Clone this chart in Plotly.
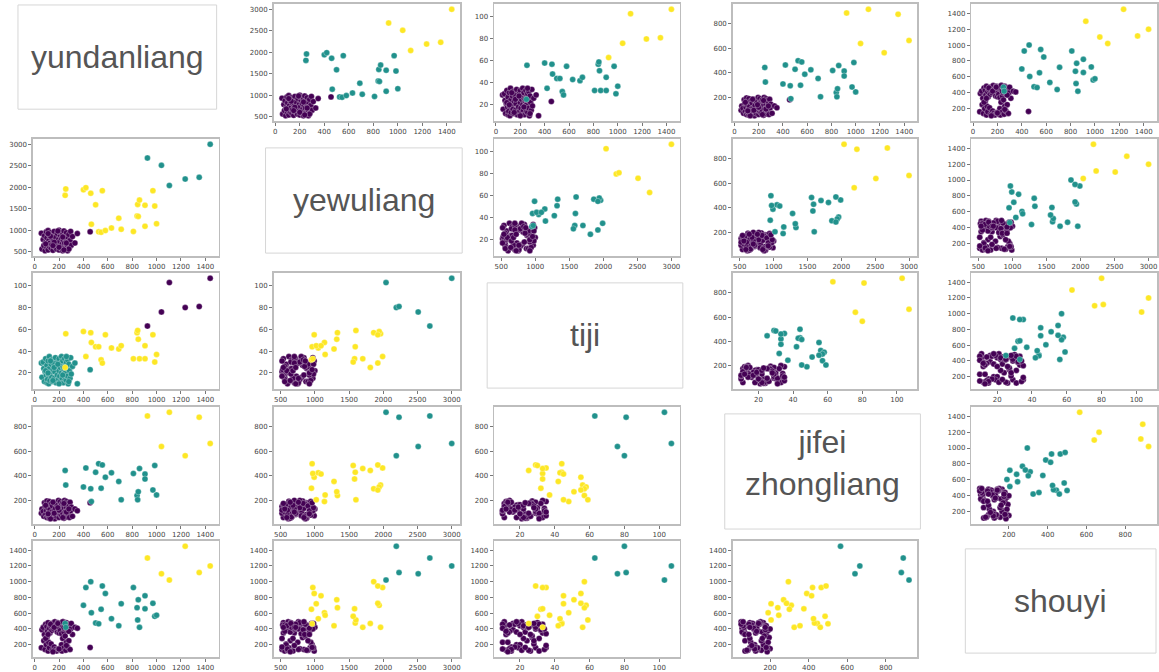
import plotly.graph_objects as go

# ---------------- data ----------------
variables = ["yundanliang", "yewuliang", "tiji", "jifei zhongliang", "shouyi"]
diag_labels = ["yundanliang", "yewuliang", "tiji", "jifei<br>zhongliang", "shouyi"]

# low group (cluster A)
low_yundanliang = [55, 60, 70, 75, 80, 85, 90, 95, 100, 100, 105, 110, 110, 115, 120, 120, 125, 130, 135, 140,
                   140, 145, 150, 155, 160, 165, 170, 175, 180, 185, 190, 195, 200, 200, 205, 210, 210, 215, 220, 220,
                   225, 230, 230, 235, 240, 240, 245, 250, 250, 255, 260, 260, 265, 270, 270, 275, 280, 285, 290, 295,
                   300, 310, 330, 350, 90, 130, 160, 200, 230, 260, 280, 110, 150, 190, 240, 455]
low_yewuliang = [930, 560, 780, 640, 870, 520, 720, 960, 600, 820, 690, 990, 540, 750, 880, 620, 700, 940, 580, 810,
                 660, 900, 530, 760, 970, 610, 840, 700, 560, 920, 650, 780, 1000, 540, 730, 880, 620, 950, 580, 800,
                 680, 910, 520, 760, 640, 980, 700, 560, 860, 600, 780, 940, 660, 520, 830, 720, 900, 590, 760, 970,
                 650, 850, 700, 920, 680, 860, 720, 600, 840, 700, 560, 920, 640, 980, 540, 960]
low_tiji = [29, 16, 30, 24, 12, 21, 33, 18, 11, 27, 14, 31, 19, 10, 24, 35, 13, 20, 28, 16,
            32, 12, 23, 29, 15, 21, 34, 11, 26, 18, 30, 14, 22, 33, 17, 25, 12, 29, 20, 35,
            15, 26, 31, 11, 23, 19, 33, 14, 27, 21, 30, 13, 24, 17, 32, 10, 28, 22, 15, 34,
            19, 26, 29, 10, 22, 31, 25, 10, 18, 35, 12, 20, 13, 28, 25, 23]
low_jifei = [95, 130, 110, 70, 180, 150, 85, 120, 60, 195, 140, 75, 165, 100, 55, 190, 125, 80, 170, 105,
             65, 155, 90, 185, 115, 50, 135, 175, 70, 160, 95, 200, 130, 60, 145, 85, 190, 110, 165, 75,
             125, 180, 95, 150, 55, 135, 200, 105, 170, 80, 140, 190, 65, 120, 175, 90, 155, 60, 185, 115,
             145, 70, 130, 115, 160, 50, 95, 120, 60, 105, 130, 90, 185, 140, 175, 180]
low_shouyi = [160, 390, 420, 250, 330, 140, 460, 200, 430, 290, 370, 120, 480, 230, 410, 160, 350, 440, 210, 470,
              380, 130, 450, 400, 170, 490, 140, 440, 120, 360, 480, 150, 420, 350, 460, 130, 380, 470, 200, 340,
              120, 440, 280, 490, 360, 160, 400, 450, 310, 130, 480, 230, 420, 170, 390, 460, 250, 440, 140, 400,
              470, 330, 420, 410, 280, 460, 420, 145, 490, 190, 370, 330, 110, 470, 420, 165]

# middle group (cluster B)
mid_yundanliang = [250, 255, 400, 420, 460, 465, 500, 525, 545, 555, 580, 630, 690, 710, 810, 840, 845, 850,
                   860, 905, 905, 970, 985, 1000]
mid_yewuliang = [1810, 1960, 1940, 1990, 1860, 1140, 1590, 960, 950, 1920, 990, 1050, 1280, 1020, 970, 1330,
                 1600, 1320, 1700, 1090, 1580, 1920, 1560, 1150]
mid_tiji = [25, 56, 58, 35, 57, 48, 44, 44, 32, 29, 55, 43, 42, 45, 33, 57, 59, 51, 33, 45, 33, 55, 30, 37]
mid_jifei = [445, 325, 310, 465, 295, 190, 430, 500, 300, 490, 390, 425, 355, 205, 420, 240, 205, 270, 460,
             415, 375, 285, 485, 245]
mid_shouyi = [470, 420, 700, 925, 1000, 605, 475, 465, 650, 945, 850, 530, 440, 720, 925, 670, 515, 770, 420,
              820, 655, 725, 560, 575]

# high group (cluster C)
high_yundanliang = [925, 1040, 1105, 1235, 1350, 1440]
high_yewuliang = [2680, 2510, 2040, 2190, 2230, 3000]
high_tiji = [63, 76, 103, 80, 81, 107]
high_jifei = [890, 640, 920, 565, 880, 665]
high_shouyi = [1300, 1100, 1020, 1450, 1115, 1200]

tick_steps = [200, 500, 20, 200, 200]

# ---------------- styling ----------------
W, H = 1159, 672
VIRIDIS = {"P": "#440154", "T": "#21918c", "Y": "#fde725"}
# colour of (low, mid, high) group in each panel (row, col)
panel_colors = {
    (0, 1): "PTY", (0, 2): "PTY", (0, 3): "PTY", (0, 4): "PTY",
    (1, 0): "PYT", (1, 2): "PTY", (1, 3): "PTY", (1, 4): "PTY",
    (2, 0): "TYP", (2, 1): "PYT", (2, 3): "PTY", (2, 4): "PTY",
    (3, 0): "PTY", (3, 1): "PYT", (3, 2): "PYT", (3, 4): "PTY",
    (4, 0): "PTY", (4, 1): "PYT", (4, 2): "PYT", (4, 3): "PYT",
}
col_px = [(32, 218), (273, 460), (494, 680), (733, 918), (972, 1158)]
row_px = [(4, 122), (140, 258), (275, 392), (410, 528), (545, 662)]
box_px = [(17, 216, 5, 110), (265, 462, 149, 255), (487, 683, 285, 391),
          (725, 921, 417, 533), (966, 1157, 553, 658)]
label_yshift = [0, 0, 0, 8, 0]

groups = [
    [low_yundanliang, low_yewuliang, low_tiji, low_jifei, low_shouyi],
    [mid_yundanliang, mid_yewuliang, mid_tiji, mid_jifei, mid_shouyi],
    [high_yundanliang, high_yewuliang, high_tiji, high_jifei, high_shouyi],
]


def full(v):
    return groups[0][v] + groups[1][v] + groups[2][v]


def padded_range(v):
    vals = full(v)
    lo, hi = min(vals), max(vals)
    pad = (hi - lo) * 0.05
    return [lo - pad, hi + pad]


fig = go.Figure()
layout = {}
k = 0
for i in range(5):
    for j in range(5):
        if i == j:
            continue
        k += 1
        xv, yv = min(i, j), max(i, j)
        cmap = panel_colors[(i, j)]
        xs, ys, cs = [], [], []
        for g in range(3):
            xs += groups[g][xv]
            ys += groups[g][yv]
            cs += [VIRIDIS[cmap[g]]] * len(groups[g][xv])
        xa = "x" if k == 1 else f"x{k}"
        ya = "y" if k == 1 else f"y{k}"
        fig.add_trace(go.Scatter(
            x=xs, y=ys, mode="markers", xaxis=xa, yaxis=ya, showlegend=False, hoverinfo="skip",
            marker=dict(color=cs, size=6, line=dict(width=0.5, color="rgba(255,255,255,0.6)")),
        ))
        x0, x1 = col_px[j]
        y0, y1 = row_px[i]
        common = dict(showgrid=False, zeroline=False, showline=True, mirror=True,
                      linecolor="#bdbdbd", linewidth=1.5, ticks="outside", ticklen=3,
                      tickwidth=0.8, tickcolor="#555", tick0=0,
                      tickfont=dict(family="DejaVu Sans", size=7, color="#444"))
        layout["xaxis" if k == 1 else f"xaxis{k}"] = dict(
            domain=[x0 / W, x1 / W], anchor=ya, range=padded_range(xv), dtick=tick_steps[xv], **common)
        layout["yaxis" if k == 1 else f"yaxis{k}"] = dict(
            domain=[1 - y1 / H, 1 - y0 / H], anchor=xa, range=padded_range(yv), dtick=tick_steps[yv], **common)

shapes, annotations = [], []
for d in range(5):
    bx0, bx1, by0, by1 = box_px[d]
    shapes.append(dict(type="rect", xref="paper", yref="paper",
                       x0=bx0 / W, x1=bx1 / W, y0=1 - by1 / H, y1=1 - by0 / H,
                       line=dict(color="#d6d6d6", width=1), fillcolor="white", layer="below"))
    annotations.append(dict(xref="paper", yref="paper", x=(bx0 + bx1) / 2 / W, y=1 - (by0 + by1) / 2 / H,
                            text=diag_labels[d], showarrow=False, xanchor="center", yanchor="middle",
                            yshift=label_yshift[d],
                            font=dict(family="Liberation Sans", size=32, color="#555555")))

fig.update_layout(width=W, height=H, autosize=False, margin=dict(l=0, r=0, t=0, b=0),
                  paper_bgcolor="white", plot_bgcolor="white",
                  shapes=shapes, annotations=annotations, **layout)
fig.write_html("out.html", config={"displayModeBar": False, "staticPlot": True},
               post_script="document.body.style.margin='0';document.body.style.padding='0';"
                           "document.body.style.overflow='hidden';")
